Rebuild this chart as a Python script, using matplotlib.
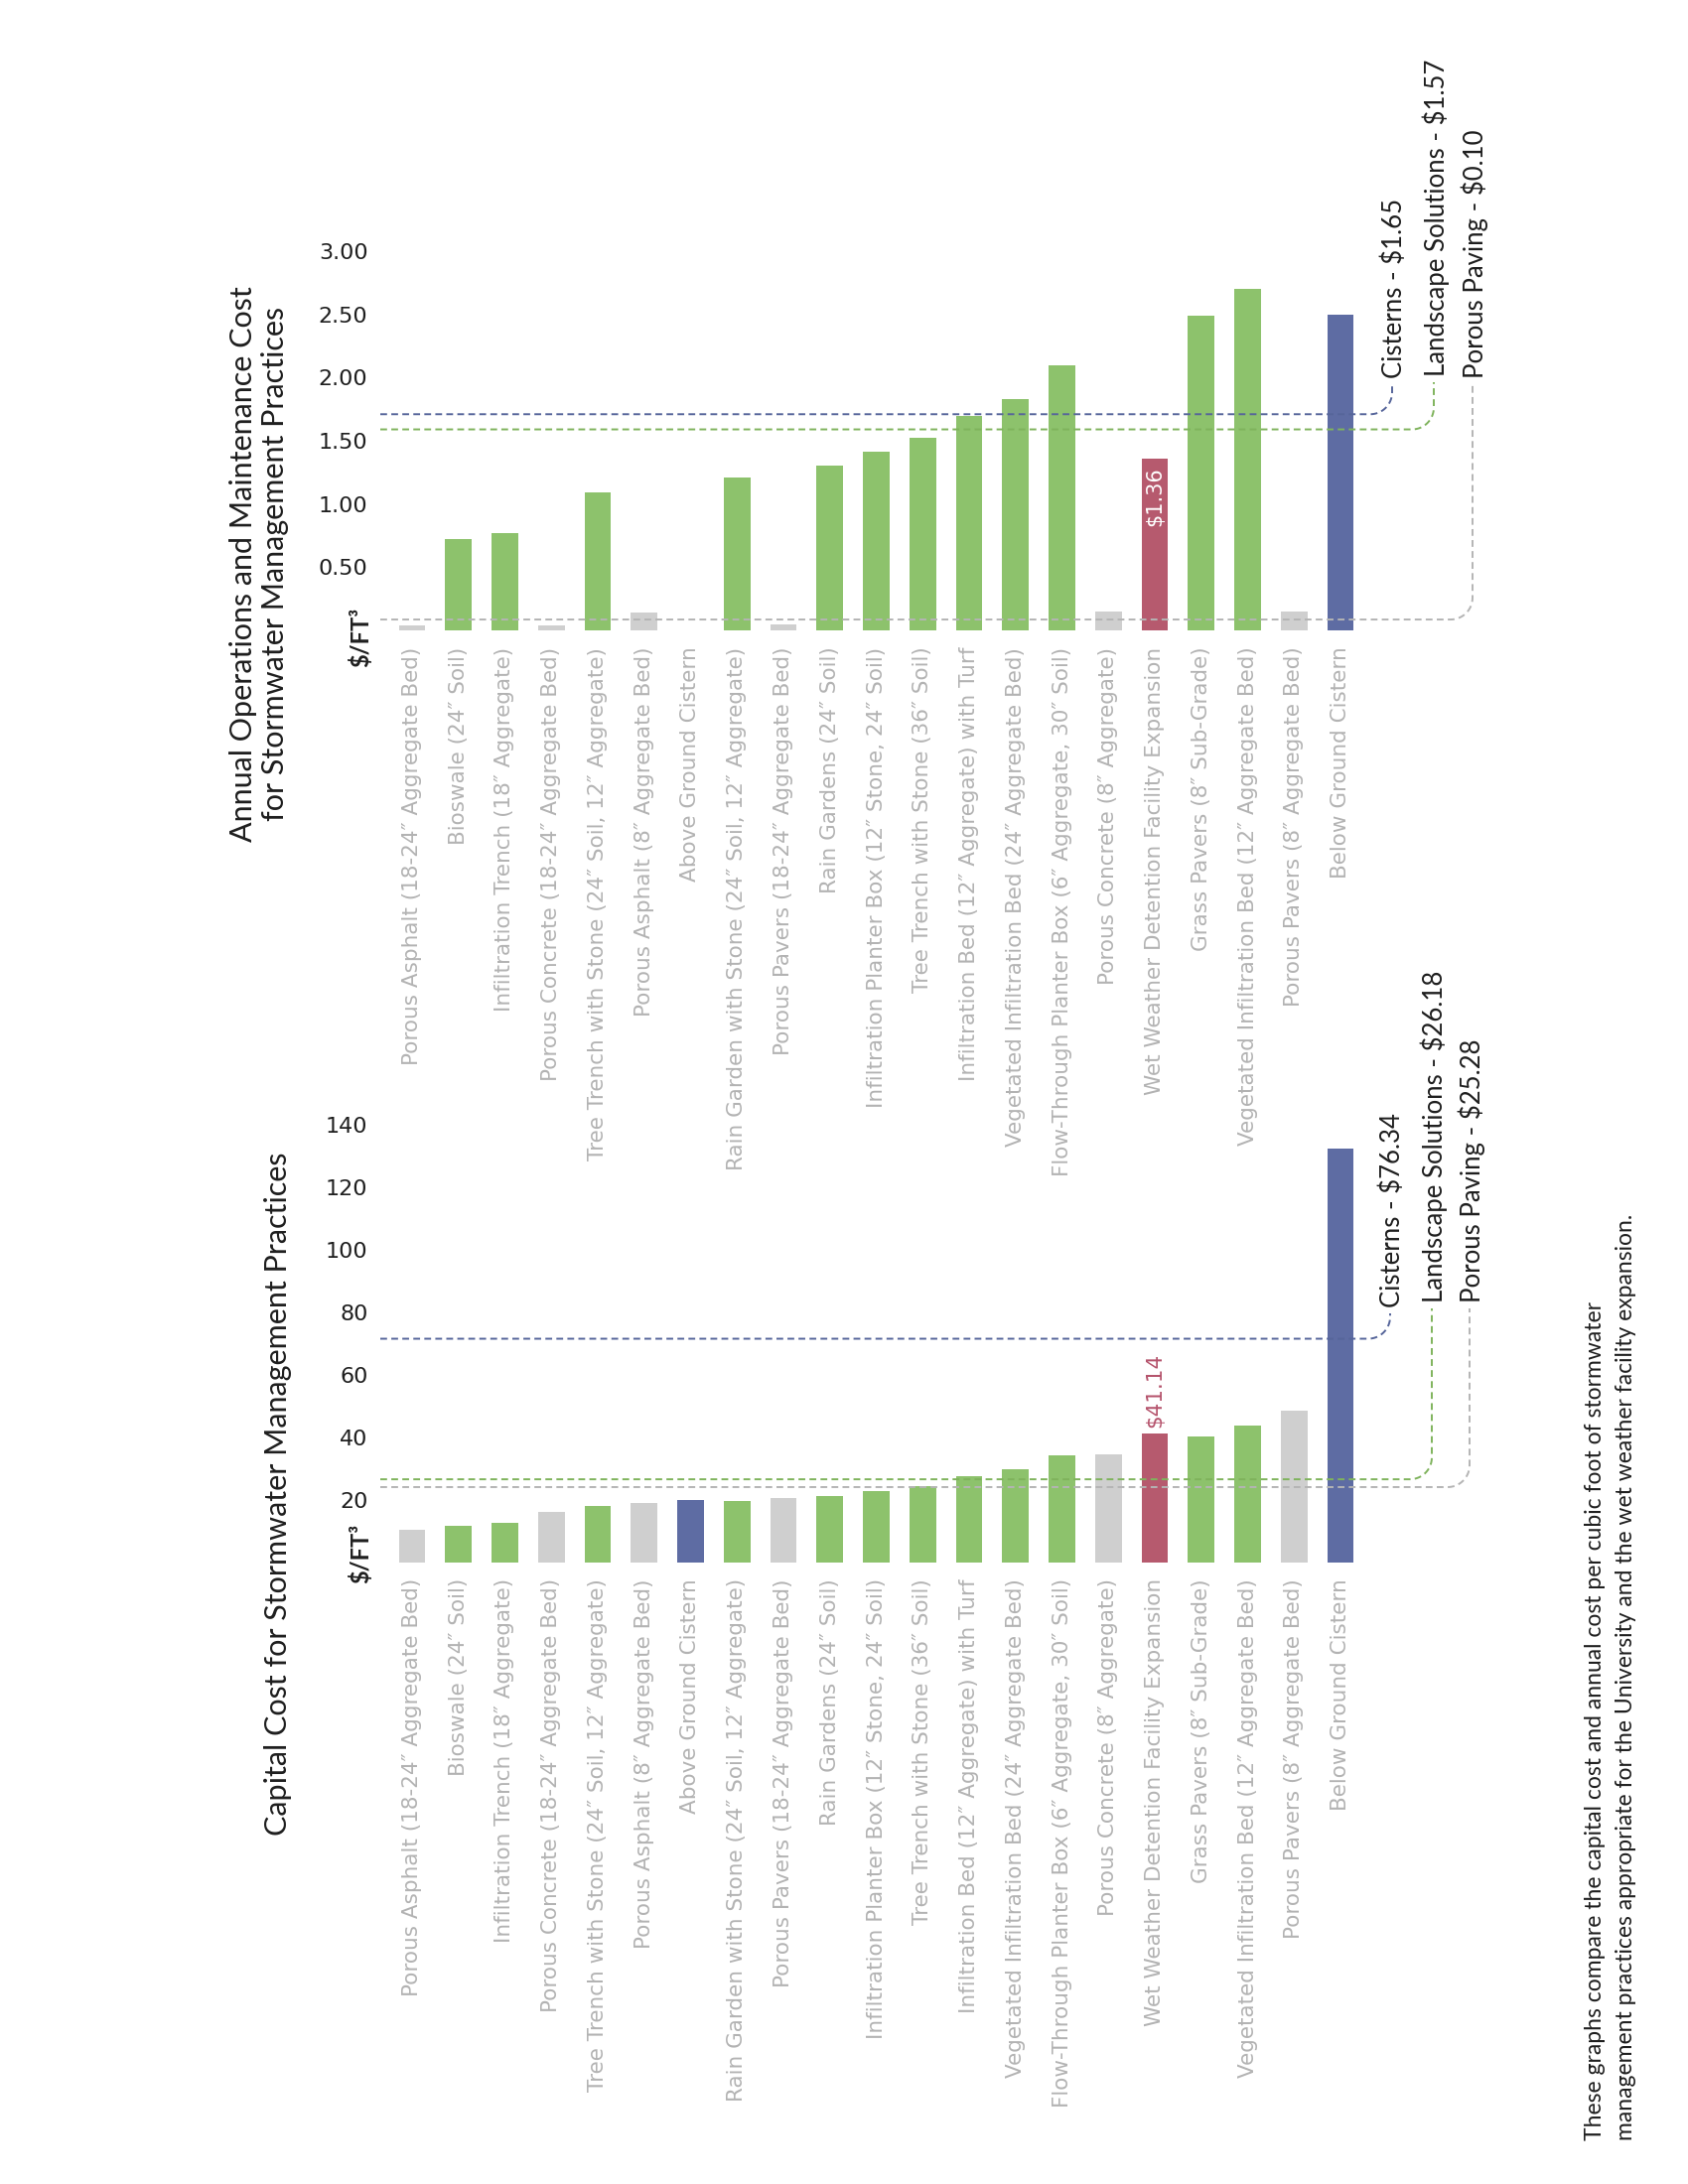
import matplotlib
matplotlib.use("Agg")
import matplotlib.pyplot as plt
from matplotlib.lines import Line2D
from matplotlib.transforms import IdentityTransform
import numpy as np

# ---------------- data ----------------
categories = [
    "Porous Asphalt (18-24\u2033 Aggregate Bed)",
    "Bioswale (24\u2033 Soil)",
    "Infiltration Trench (18\u2033 Aggregate)",
    "Porous Concrete (18-24\u2033 Aggregate Bed)",
    "Tree Trench with Stone (24\u2033 Soil, 12\u2033 Aggregate)",
    "Porous Asphalt (8\u2033 Aggregate Bed)",
    "Above Ground Cistern",
    "Rain Garden with Stone (24\u2033 Soil, 12\u2033 Aggregate)",
    "Porous Pavers (18-24\u2033 Aggregate Bed)",
    "Rain Gardens (24\u2033 Soil)",
    "Infiltration Planter Box (12\u2033 Stone, 24\u2033 Soil)",
    "Tree Trench with Stone (36\u2033 Soil)",
    "Infiltration Bed (12\u2033 Aggregate) with Turf",
    "Vegetated Infiltration Bed (24\u2033 Aggregate Bed)",
    "Flow-Through Planter Box (6\u2033 Aggregate, 30\u2033 Soil)",
    "Porous Concrete (8\u2033 Aggregate)",
    "Wet Weather Detention Facility Expansion",
    "Grass Pavers (8\u2033 Sub-Grade)",
    "Vegetated Infiltration Bed (12\u2033 Aggregate Bed)",
    "Porous Pavers (8\u2033 Aggregate Bed)",
    "Below Ground Cistern",
]
kinds = ["porous", "landscape", "landscape", "porous", "landscape", "porous",
         "cistern", "landscape", "porous", "landscape", "landscape", "landscape",
         "landscape", "landscape", "landscape", "porous", "wetweather",
         "landscape", "landscape", "porous", "cistern"]

om_values = [0.04, 0.72, 0.77, 0.04, 1.09, 0.14, 0.0, 1.21, 0.05, 1.30, 1.41,
             1.52, 1.70, 1.83, 2.10, 0.15, 1.36, 2.49, 2.70, 0.15, 2.50]
capital_values = [10.3, 11.7, 12.5, 15.9, 17.9, 18.8, 19.8, 19.7, 20.4, 21.0,
                  22.6, 24.4, 27.6, 29.6, 34.1, 34.6, 41.14, 40.2, 43.6, 48.4,
                  132.5]

om_ticks = [0.5, 1.0, 1.5, 2.0, 2.5, 3.0]
om_tick_labels = ["0.50", "1.00", "1.50", "2.00", "2.50", "3.00"]
cap_ticks = [20, 40, 60, 80, 100, 120, 140]
cap_tick_labels = ["20", "40", "60", "80", "100", "120", "140"]

ref_kinds = ["cistern", "landscape", "porous"]
om_ref_labels = ["Cisterns - $1.65", "Landscape Solutions - $1.57", "Porous Paving - $0.10"]
om_ref_levels = [1.71, 1.59, 0.086]
cap_ref_labels = ["Cisterns - $76.34", "Landscape Solutions - $26.18", "Porous Paving - $25.28"]
cap_ref_levels = [71.5, 26.5, 24.0]

om_highlight = "$1.36"
cap_highlight = "$41.14"

om_title = "Annual Operations and Maintenance Cost\nfor Stormwater Management Practices"
cap_title = "Capital Cost for Stormwater Management Practices"
unit_label = "$/FT\u00b3"
caption = ("These graphs compare the capital cost and annual cost per cubic foot of stormwater\n"
           "management practices appropriate for the University and the wet weather facility expansion.")

# ---------------- style ----------------
bar_colors = {"porous": "#cfcfcf", "landscape": "#8dc26c",
              "cistern": "#5e6ca3", "wetweather": "#b65a6e"}
line_colors = {"porous": "#b4b4b4", "landscape": "#7fb35c", "cistern": "#56659a"}
label_gray = "#b3b3b3"
dark = "#1e1e1e"
NARROW = ["Lato", "DejaVu Sans"]
LABELFAM = ["DejaVu Sans", "Noto Sans CJK JP"]

W, H = 1700, 2200
fig = plt.figure(figsize=(W / 100, H / 100), dpi=100)
fig.patch.set_facecolor("white")


def rect(left, top, right, bottom):
    return [left / W, 1 - bottom / H, (right - left) / W, (bottom - top) / H]


def fig_xy(x, y):
    return x / W, 1 - y / H


def make_axes(r, values, ylim, ticks, tick_labels):
    ax = fig.add_axes(r)
    x = np.arange(len(categories))
    colors = [bar_colors[k] for k in kinds]
    ax.bar(x, values, width=0.57, color=colors, zorder=2)
    ax.set_xlim(-0.684, len(categories) - 0.5)
    ax.set_ylim(*ylim)
    ax.set_yticks(ticks)
    ax.set_yticklabels(tick_labels, fontsize=16, color=dark)
    ax.tick_params(axis="y", length=0, pad=9)
    ax.set_xticks(x)
    ax.set_xticklabels(categories, rotation=90, fontsize=15.5, color=label_gray,
                       family=LABELFAM)
    ax.tick_params(axis="x", length=0, pad=12)
    for s in ax.spines.values():
        s.set_visible(False)
    ax.patch.set_alpha(0)
    return ax


ax_om = make_axes(rect(383, 253, 1373.4, 635), om_values, (0, 3.0), om_ticks, om_tick_labels)
ax_cap = make_axes(rect(383, 1133, 1373.4, 1573.5), capital_values, (0, 140), cap_ticks, cap_tick_labels)


def connector(ax, level, xv, ytext, color):
    y = ax.transData.transform((0, level))[1]
    x0 = ax.transAxes.transform((0, 0))[0]
    r = 22.0
    yt = H - ytext - 6
    t = np.linspace(-np.pi / 2, 0, 20)
    xs = [x0] + list(xv - r + r * np.cos(t)) + [xv]
    ys = [y] + list(y + r + r * np.sin(t)) + [yt]
    ln = Line2D(xs, ys, transform=IdentityTransform(), color=color, lw=1.4,
                ls=(0, (3.5, 2.2)), zorder=5)
    fig.add_artist(ln)


# O&M connectors and labels
om_vx = [1402, 1444, 1483]
om_text_bottom = [381, 379, 381]
for lab, lev, k, xv, yb in zip(om_ref_labels, om_ref_levels, ref_kinds, om_vx, om_text_bottom):
    connector(ax_om, lev, xv, yb, line_colors[k])
    fig.text(*fig_xy(xv + 2, yb), lab.replace("$", r"\$"), rotation=90, ha="center",
             va="bottom", fontsize=18.5, color=dark, family=NARROW)

cap_vx = [1400, 1442, 1480]
cap_text_bottom = [1317, 1312, 1312]
for lab, lev, k, xv, yb in zip(cap_ref_labels, cap_ref_levels, ref_kinds, cap_vx, cap_text_bottom):
    connector(ax_cap, lev, xv, yb, line_colors[k])
    fig.text(*fig_xy(xv + 2, yb), lab.replace("$", r"\$"), rotation=90, ha="center",
             va="bottom", fontsize=18.5, color=dark, family=NARROW)

# highlighted values
i_ww = kinds.index("wetweather")
ax_om.text(i_ww, om_values[i_ww] - 0.07, om_highlight.replace("$", r"\$"), rotation=90,
           ha="center", va="top", color="white", fontsize=15, zorder=6)
ax_cap.text(i_ww, capital_values[i_ww] + 2.0, cap_highlight.replace("$", r"\$"), rotation=90,
            ha="center", va="bottom", color="#b5536c", fontsize=15.5, zorder=6)

# unit labels
fig.text(*fig_xy(363, 642), unit_label.replace("$", r"\$"), rotation=90, ha="center",
         va="center", fontsize=17, color=dark, family=NARROW, fontweight="bold")
fig.text(*fig_xy(363, 1565), unit_label.replace("$", r"\$"), rotation=90, ha="center",
         va="center", fontsize=17, color=dark, family=NARROW, fontweight="bold")

# titles
fig.text(*fig_xy(261, 568), om_title, rotation=90, ha="center", va="center",
         multialignment="center", fontsize=22, color=dark, family=NARROW, linespacing=1.2)
fig.text(*fig_xy(280, 1505), cap_title, rotation=90, ha="center", va="center",
         fontsize=22, color=dark, family=NARROW)

# caption
fig.text(*fig_xy(1622, 2156), caption, rotation=90, ha="center", va="bottom",
         multialignment="left", fontsize=16.5, color=dark, family=NARROW, linespacing=1.55)

fig.savefig("out.png", dpi=100, facecolor="white")
